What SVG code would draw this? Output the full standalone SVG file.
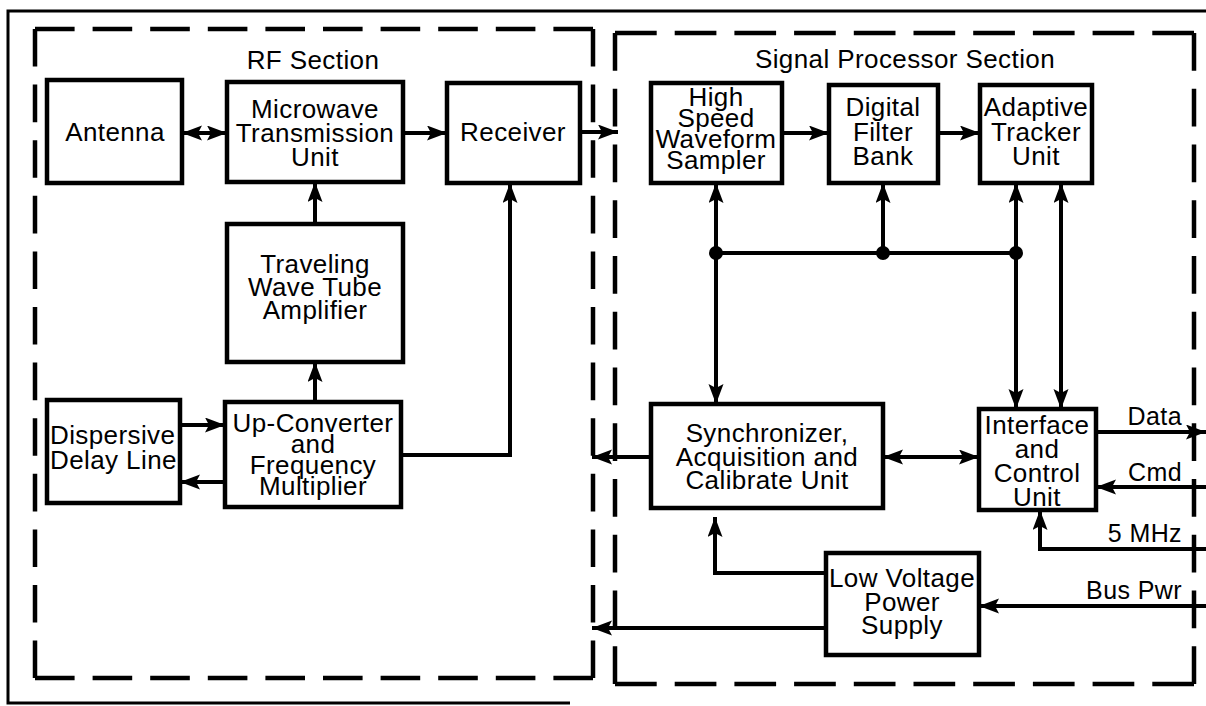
<svg xmlns="http://www.w3.org/2000/svg" width="1206" height="706" viewBox="0 0 1206 706">
<defs>
<style>
.box{fill:#fff;stroke:#000;stroke-width:4.5}
.t{font-family:"Liberation Sans",Arial,sans-serif;font-size:26px;letter-spacing:0.4px;fill:#000;text-anchor:middle}
.tl{font-family:"Liberation Sans",Arial,sans-serif;font-size:26px;letter-spacing:0.4px;fill:#000;text-anchor:start}
.tr{font-family:"Liberation Sans",Arial,sans-serif;font-size:25px;letter-spacing:0.4px;fill:#000;text-anchor:end}
.c{fill:none;stroke:#000;stroke-width:4}
.a{marker-end:url(#ah)}
.d{marker-start:url(#ah);marker-end:url(#ah)}
.dash{fill:none;stroke:#000;stroke-width:4.5}
.outer{fill:none;stroke:#000;stroke-width:3}
</style>
<marker id="ah" markerUnits="userSpaceOnUse" markerWidth="22" markerHeight="16" refX="20" refY="7.5" orient="auto-start-reverse">
<path d="M0,0 L20,7.5 L0,15 L4,7.5 z" fill="#000"/>
</marker>
</defs>
<rect width="1206" height="706" fill="#fff"/>

<g id="frame">
<path class="outer" d="M1206,11 L8,11 L8,703 L570,703"/>
</g>

<g id="rf-section">
<line class="dash" x1="35" y1="29" x2="593" y2="29" stroke-dasharray="39.6 18"/>
<line class="dash" x1="35" y1="678" x2="593" y2="678" stroke-dasharray="39.6 18"/>
<line class="dash" x1="35" y1="29" x2="35" y2="678" stroke-dasharray="37.6 18"/>
<line class="dash" x1="593" y1="29" x2="593" y2="678" stroke-dasharray="37.6 18"/>
<text class="t" x="313" y="69">RF Section</text>
</g>

<g id="sp-section">
<line class="dash" x1="615" y1="33" x2="1194" y2="33" stroke-dasharray="41.7 18"/>
<line class="dash" x1="615" y1="684" x2="1194" y2="684" stroke-dasharray="41.7 18"/>
<line class="dash" x1="615" y1="33" x2="615" y2="684" stroke-dasharray="37.75 18"/>
<line class="dash" x1="1194" y1="33" x2="1194" y2="684" stroke-dasharray="37.75 18"/>
<text class="t" x="905" y="68">Signal Processor Section</text>
</g>

<g id="connectors">
<line class="c d" x1="182" y1="133" x2="227" y2="133"/>
<line class="c a" x1="403" y1="133" x2="447" y2="133"/>
<line class="c a" x1="580" y1="132" x2="618" y2="132"/>
<line class="c a" x1="315" y1="224" x2="315" y2="182"/>
<line class="c a" x1="315" y1="402" x2="315" y2="362"/>
<polyline class="c a" points="401,455 510,455 510,183"/>
<line class="c a" x1="180" y1="425" x2="225" y2="425"/>
<line class="c a" x1="225" y1="482" x2="180" y2="482"/>
<line class="c a" x1="782" y1="133" x2="829" y2="133"/>
<line class="c a" x1="938" y1="133" x2="980" y2="133"/>
<line class="c" x1="716" y1="253" x2="1016" y2="253"/>
<circle cx="716" cy="253" r="7"/>
<circle cx="883" cy="253" r="7"/>
<circle cx="1016" cy="253" r="7"/>
<line class="c a" x1="716" y1="253" x2="716" y2="183"/>
<line class="c a" x1="716" y1="253" x2="716" y2="404"/>
<line class="c a" x1="883" y1="253" x2="883" y2="183"/>
<line class="c a" x1="1016" y1="253" x2="1016" y2="183"/>
<line class="c a" x1="1016" y1="253" x2="1016" y2="409"/>
<line class="c d" x1="1061" y1="183" x2="1061" y2="409"/>
<line class="c d" x1="883" y1="457" x2="979" y2="457"/>
<line class="c a" x1="651" y1="457" x2="592" y2="457"/>
<line class="c a" x1="826" y1="628" x2="592" y2="628"/>
<polyline class="c a" points="826,573 715,573 715,517"/>
<line class="c a" x1="1096" y1="432" x2="1206" y2="432"/>
<line class="c a" x1="1206" y1="487" x2="1096" y2="487"/>
<polyline class="c a" points="1206,549 1040,549 1040,510"/>
<line class="c a" x1="1206" y1="606" x2="979" y2="606"/>
<text class="tr" x="1182" y="425">Data</text>
<text class="tr" x="1182" y="481">Cmd</text>
<text class="tr" x="1182" y="542">5 MHz</text>
<text class="tr" x="1182" y="599">Bus Pwr</text>
</g>

<g id="antenna">
<rect class="box" x="47" y="80" width="135" height="103"/>
<text class="t" x="115" y="141">Antenna</text>
</g>
<g id="microwave-transmission-unit">
<rect class="box" x="227" y="82" width="176" height="100"/>
<text class="t" x="315" y="118">Microwave</text>
<text class="t" x="315" y="142">Transmission</text>
<text class="t" x="315" y="166">Unit</text>
</g>
<g id="receiver">
<rect class="box" x="447" y="83" width="133" height="100"/>
<text class="t" x="513" y="141">Receiver</text>
</g>
<g id="twta">
<rect class="box" x="227" y="224" width="176" height="138"/>
<text class="t" x="315" y="273">Traveling</text>
<text class="t" x="315" y="296">Wave Tube</text>
<text class="t" x="315" y="319">Amplifier</text>
</g>
<g id="up-converter">
<rect class="box" x="225" y="402" width="176" height="105"/>
<text class="t" x="313" y="432">Up-Converter</text>
<text class="t" x="313" y="453">and</text>
<text class="t" x="313" y="474">Frequency</text>
<text class="t" x="313" y="495">Multiplier</text>
</g>
<g id="dispersive-delay-line">
<rect class="box" x="47" y="400" width="133" height="103"/>
<text class="tl" x="50" y="444">Dispersive</text>
<text class="tl" x="50" y="469">Delay Line</text>
</g>
<g id="waveform-sampler">
<rect class="box" x="651" y="83" width="131" height="100"/>
<text class="t" x="716" y="106">High</text>
<text class="t" x="716" y="127">Speed</text>
<text class="t" x="716" y="148">Waveform</text>
<text class="t" x="716" y="169">Sampler</text>
</g>
<g id="digital-filter-bank">
<rect class="box" x="829" y="85" width="109" height="98"/>
<text class="t" x="883" y="116">Digital</text>
<text class="t" x="883" y="141">Filter</text>
<text class="t" x="883" y="165">Bank</text>
</g>
<g id="adaptive-tracker-unit">
<rect class="box" x="980" y="85" width="112" height="98"/>
<text class="t" x="1036" y="116">Adaptive</text>
<text class="t" x="1036" y="141">Tracker</text>
<text class="t" x="1036" y="165">Unit</text>
</g>
<g id="synchronizer">
<rect class="box" x="651" y="404" width="232" height="104"/>
<text class="t" x="767" y="442">Synchronizer,</text>
<text class="t" x="767" y="466">Acquisition and</text>
<text class="t" x="767" y="489">Calibrate Unit</text>
</g>
<g id="interface-control-unit">
<rect class="box" x="979" y="409" width="117" height="101"/>
<text class="t" x="1037" y="434">Interface</text>
<text class="t" x="1037" y="458">and</text>
<text class="t" x="1037" y="482">Control</text>
<text class="t" x="1037" y="506">Unit</text>
</g>
<g id="low-voltage-power-supply">
<rect class="box" x="826" y="553" width="153" height="102"/>
<text class="t" x="902" y="587">Low Voltage</text>
<text class="t" x="902" y="611">Power</text>
<text class="t" x="902" y="634">Supply</text>
</g>
</svg>
